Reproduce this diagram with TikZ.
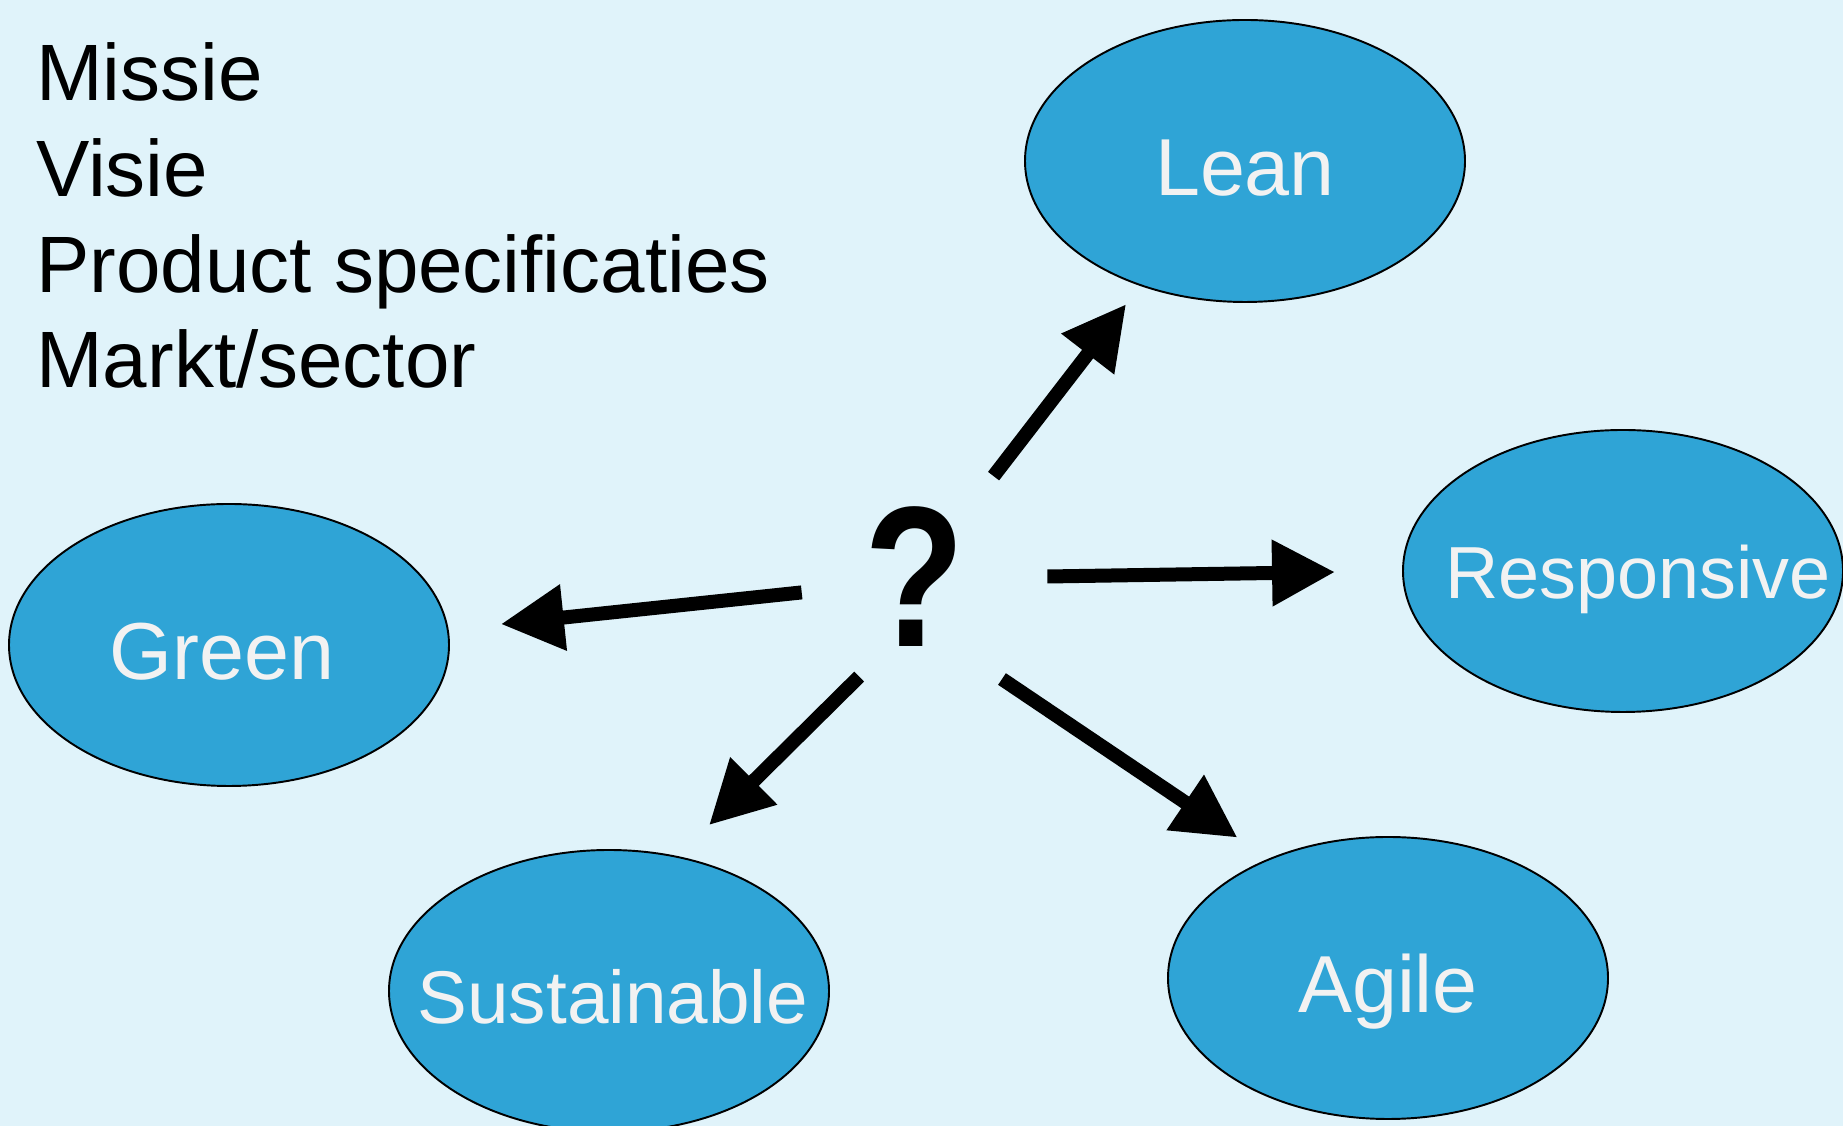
\documentclass[tikz,border=0pt]{standalone}
\usepackage{fontspec}
\setmainfont{Liberation Sans}
\usetikzlibrary{shapes.geometric,arrows.meta}
\definecolor{fondo}{RGB}{224,243,250}
\definecolor{azul}{RGB}{47,164,214}
\definecolor{letra}{RGB}{242,242,242}
\newcommand{\etiq}[1]{\makebox[0pt]{\raisebox{-0.43em}[0pt][0pt]{#1}}}

\begin{document}
\begin{tikzpicture}[
		bola/.style={ellipse, draw, line width=1.1pt, fill=azul, text=letra, inner sep=0pt,
			minimum width=8.8cm, minimum height=5.64cm, font=\fontsize{46}{52}\selectfont},
		flecha/.style={line width=0.28cm, -{Triangle[length=1.26cm,width=1.26cm]}}]
			\useasboundingbox (0,0) rectangle (36.86,22.52);
			\fill[fondo] (0,0) rectangle (36.86,22.52);
			% lista
			\foreach \t [count=\i] in {Missie,Visie,Product specificaties,Markt/sector}
				\node[anchor=base west, inner sep=0pt, font=\fontsize{45.5}{54}\selectfont] (lin\i) at (0.72,{20.5-1.913*(\i-1)}) {\t};
			% vraag
			\node[circle, minimum size=4cm, inner sep=0pt, font=\fontsize{114}{120}\selectfont\bfseries] (q) at (18.30,10.98) {\scalebox{0.82}[1]{?}};
			% ellipsen
			\node[bola] (lean)  at (24.90,19.30) {\etiq{Lean}};
			\node[bola, font=\fontsize{42}{50}\selectfont] (resp) at (32.46,11.10) {\etiq{\hspace*{0.6cm}\raisebox{0.08cm}{Responsive}}};
			\node[bola] (green) at (4.58,9.62)   {\etiq{Green\hspace*{0.28cm}}};
			\node[bola, font=\fontsize{42.5}{50}\selectfont] (sust) at (12.18,2.70) {\etiq{\hspace*{0.15cm}Sustainable}};
			\node[bola] (agile) at (27.76,2.96)  {\etiq{Agile}};
			% pijlen
			\draw[flecha, shorten <=0.55cm, shorten >=0.46cm] (q.52) -- (lean.230);
			\draw[flecha, shorten <=0.64cm, shorten >=1.34cm] (q.0) -- (resp.180);
			\draw[flecha, shorten <=0.28cm, shorten >=1.05cm] (q.188) -- (green.4);
			\draw[flecha, shorten <=0.29cm, shorten >=0.88cm] (q.243) -- (sust.63);
			\draw[flecha, shorten <=0.71cm, shorten >=0.75cm] (q.-55.5) -- (agile.135);
		\end{tikzpicture}
\end{document}
